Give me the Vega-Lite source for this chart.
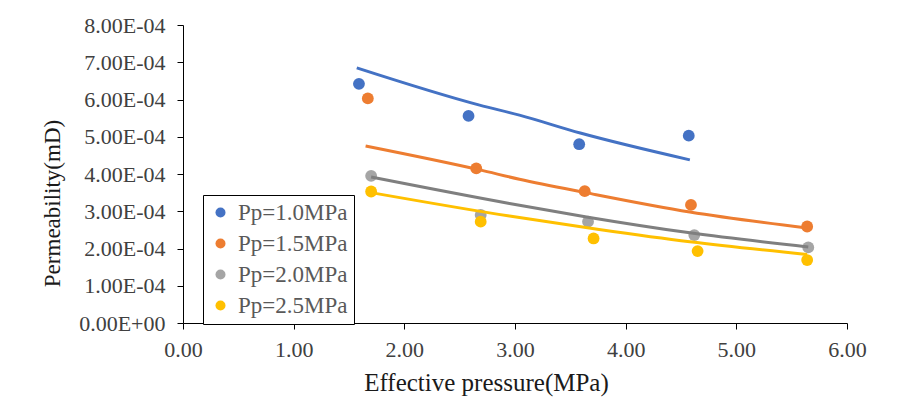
{
  "$schema": "https://vega.github.io/schema/vega-lite/v6.json",
  "width": 664,
  "height": 298,
  "autosize": {"type": "none"},
  "padding": {"left": 183, "top": 25, "right": 58, "bottom": 82},
  "background": "white",
  "config": {
    "view": {"stroke": null},
    "font": "Liberation Serif",
    "axis": {
      "grid": false,
      "domainColor": "#000000",
      "domainWidth": 1,
      "tickColor": "#000000",
      "tickSize": 6,
      "labelFont": "Liberation Serif",
      "labelFontSize": 22,
      "labelColor": "#404040",
      "titleFont": "Liberation Serif",
      "titleFontWeight": "normal",
      "titleColor": "#1a1a1a",
      "labelFlush": false,
      "labelOverlap": false,
      "labelBound": false
    }
  },
  "datasets": {
    "pts": [
      {"series": "Pp=1.0MPa", "pressure": 1.59, "perm": 0.000642},
      {"series": "Pp=1.0MPa", "pressure": 2.58, "perm": 0.000556},
      {"series": "Pp=1.0MPa", "pressure": 3.58, "perm": 0.000480},
      {"series": "Pp=1.0MPa", "pressure": 4.57, "perm": 0.000503},
      {"series": "Pp=1.5MPa", "pressure": 1.67, "perm": 0.000603},
      {"series": "Pp=1.5MPa", "pressure": 2.65, "perm": 0.000415},
      {"series": "Pp=1.5MPa", "pressure": 3.63, "perm": 0.000354},
      {"series": "Pp=1.5MPa", "pressure": 4.59, "perm": 0.000317},
      {"series": "Pp=1.5MPa", "pressure": 5.64, "perm": 0.000259},
      {"series": "Pp=2.0MPa", "pressure": 1.70, "perm": 0.000395},
      {"series": "Pp=2.0MPa", "pressure": 2.69, "perm": 0.000290},
      {"series": "Pp=2.0MPa", "pressure": 3.66, "perm": 0.000272},
      {"series": "Pp=2.0MPa", "pressure": 4.62, "perm": 0.000236},
      {"series": "Pp=2.0MPa", "pressure": 5.65, "perm": 0.000203},
      {"series": "Pp=2.5MPa", "pressure": 1.70, "perm": 0.000353},
      {"series": "Pp=2.5MPa", "pressure": 2.69, "perm": 0.000272},
      {"series": "Pp=2.5MPa", "pressure": 3.71, "perm": 0.000227},
      {"series": "Pp=2.5MPa", "pressure": 4.65, "perm": 0.000193},
      {"series": "Pp=2.5MPa", "pressure": 5.64, "perm": 0.000169}
    ],
    "fit": [
      {"series": "Pp=1.0MPa", "pressure": 1.57, "perm": 0.000685},
      {"series": "Pp=1.0MPa", "pressure": 2.68, "perm": 0.000585},
      {"series": "Pp=1.0MPa", "pressure": 3.04, "perm": 0.000558},
      {"series": "Pp=1.0MPa", "pressure": 3.59, "perm": 0.000510},
      {"series": "Pp=1.0MPa", "pressure": 4.58, "perm": 0.000438},
      {"series": "Pp=1.5MPa", "pressure": 1.65, "perm": 0.000475},
      {"series": "Pp=1.5MPa", "pressure": 2.68, "perm": 0.000411},
      {"series": "Pp=1.5MPa", "pressure": 3.04, "perm": 0.000386},
      {"series": "Pp=1.5MPa", "pressure": 3.64, "perm": 0.000350},
      {"series": "Pp=1.5MPa", "pressure": 4.58, "perm": 0.000298},
      {"series": "Pp=1.5MPa", "pressure": 5.64, "perm": 0.000255},
      {"series": "Pp=2.0MPa", "pressure": 1.70, "perm": 0.000392},
      {"series": "Pp=2.0MPa", "pressure": 2.95, "perm": 0.000321},
      {"series": "Pp=2.0MPa", "pressure": 3.66, "perm": 0.000284},
      {"series": "Pp=2.0MPa", "pressure": 4.58, "perm": 0.000242},
      {"series": "Pp=2.0MPa", "pressure": 5.65, "perm": 0.000204},
      {"series": "Pp=2.5MPa", "pressure": 1.70, "perm": 0.000350},
      {"series": "Pp=2.5MPa", "pressure": 2.95, "perm": 0.000287},
      {"series": "Pp=2.5MPa", "pressure": 3.76, "perm": 0.000251},
      {"series": "Pp=2.5MPa", "pressure": 4.58, "perm": 0.000218},
      {"series": "Pp=2.5MPa", "pressure": 5.64, "perm": 0.000184}
    ]
  },
  "encoding": {
    "x": {
      "field": "pressure",
      "type": "quantitative",
      "scale": {"domain": [0, 6], "nice": false, "zero": false},
      "axis": {
        "values": [0, 1, 2, 3, 4, 5, 6],
        "format": ".2f",
        "labelPadding": 10,
        "title": "Effective pressure(MPa)",
        "titleFont": "Liberation Serif",
        "titleFontSize": 25,
        "titleX": 303,
        "titleY": 59,
        "titleBaseline": "middle",
        "titleAnchor": "middle"
      }
    },
    "y": {
      "field": "perm",
      "type": "quantitative",
      "scale": {"domain": [0, 0.0008], "nice": false},
      "axis": {
        "values": [0, 0.0001, 0.0002, 0.0003, 0.0004, 0.0005, 0.0006, 0.0007, 0.0008],
        "labelExpr": "datum.value == 0 ? '0.00E+00' : format(datum.value * 10000, '.2f') + 'E-04'",
        "labelPadding": 12,
        "title": "Permeability(mD)",
        "titleFont": "Liberation Serif",
        "titleFontSize": 23,
        "titleX": -131,
        "titleY": 178,
        "titleAngle": 270,
        "titleAlign": "center",
        "titleBaseline": "middle"
      }
    }
  },
  "layer": [
    {
      "data": {"name": "pts"},
      "mark": {"type": "circle", "size": 140, "opacity": 1},
      "encoding": {
        "color": {
          "field": "series",
          "type": "nominal",
          "scale": {
            "domain": ["Pp=1.0MPa", "Pp=1.5MPa", "Pp=2.0MPa", "Pp=2.5MPa"],
            "range": ["#4472C4", "#ED7D31", "#A5A5A5", "#FFC000"]
          },
          "legend": {
            "orient": "none",
            "legendX": 20,
            "legendY": 170,
            "title": null,
            "strokeColor": "#000000",
            "fillColor": "#ffffff",
            "padding": 6,
            "labelFont": "Liberation Serif",
            "labelFontSize": 23,
            "labelColor": "#595959",
            "labelOffset": 6,
            "symbolType": "circle",
            "symbolSize": 100,
            "symbolStrokeWidth": 0,
            "rowPadding": 7
          }
        }
      }
    },
    {
      "data": {"name": "fit"},
      "mark": {"type": "line", "strokeWidth": 3, "interpolate": "monotone"},
      "encoding": {
        "stroke": {
          "field": "series",
          "type": "nominal",
          "scale": {
            "domain": ["Pp=1.0MPa", "Pp=1.5MPa", "Pp=2.0MPa", "Pp=2.5MPa"],
            "range": ["#4472C4", "#ED7D31", "#7F7F7F", "#FFC000"]
          },
          "legend": null
        }
      }
    }
  ]
}
